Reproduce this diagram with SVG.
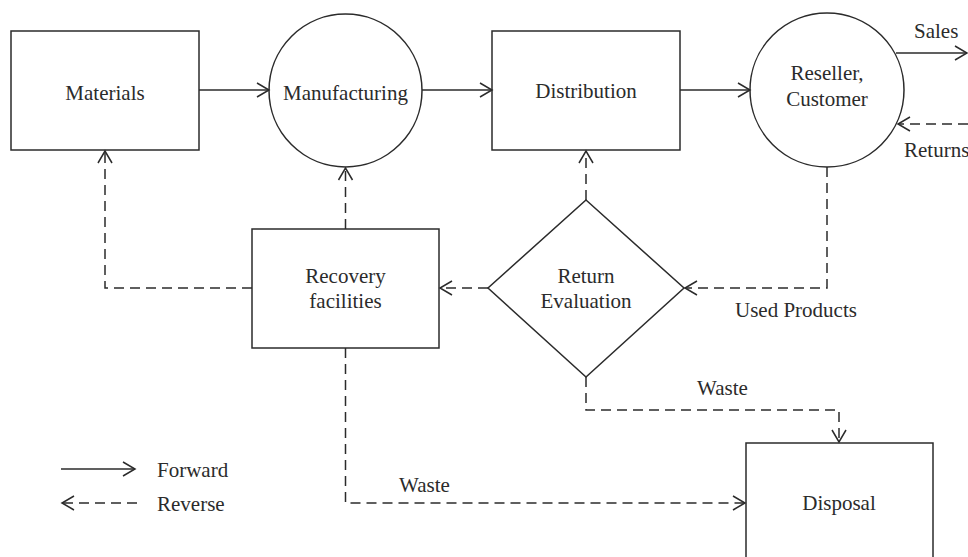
<svg xmlns="http://www.w3.org/2000/svg" width="968" height="557" viewBox="0 0 968 557">
<style>
.n{fill:#fff;stroke:#2b2b2b;stroke-width:1.5}
.t{font-family:"Liberation Serif","Times New Roman",serif;font-size:21px;fill:#2b2b2b;text-anchor:middle}
.l{font-family:"Liberation Serif","Times New Roman",serif;font-size:21px;fill:#2b2b2b}
.f{fill:none;stroke:#2b2b2b;stroke-width:1.5}
.d{fill:none;stroke:#2b2b2b;stroke-width:1.5;stroke-dasharray:10 6}
</style>
<defs>
<marker id="a" markerUnits="userSpaceOnUse" markerWidth="16" markerHeight="18" viewBox="0 0 16 18" refX="14" refY="9" orient="auto">
<path d="M2,2 L14,9 L2,16" fill="none" stroke="#2b2b2b" stroke-width="1.5" stroke-dasharray="none"/>
</marker>
</defs>
<g id="materials"><rect class="n" x="11" y="31" width="188" height="119"/><text class="t" x="105" y="100">Materials</text></g>
<g id="manufacturing"><circle class="n" cx="345.5" cy="90.5" r="76.5"/><text class="t" x="345.5" y="100">Manufacturing</text></g>
<g id="distribution"><rect class="n" x="492" y="31" width="188" height="119"/><text class="t" x="586" y="98">Distribution</text></g>
<g id="reseller"><circle class="n" cx="827" cy="90" r="77"/><text class="t" x="827" y="80">Reseller,</text><text class="t" x="827" y="106">Customer</text></g>
<g id="recovery"><rect class="n" x="252" y="229" width="187" height="119"/><text class="t" x="345.5" y="283">Recovery</text><text class="t" x="345.5" y="308">facilities</text></g>
<g id="evaluation"><polygon class="n" points="586,200 684,288 586,377 488,288"/><text class="t" x="586" y="283">Return</text><text class="t" x="586" y="308">Evaluation</text></g>
<g id="disposal"><rect class="n" x="746" y="443" width="187" height="119"/><text class="t" x="839" y="510">Disposal</text></g>
<g id="connectors">
<line class="f" x1="199" y1="90" x2="269" y2="90" marker-end="url(#a)"/>
<line class="f" x1="422" y1="90" x2="492" y2="90" marker-end="url(#a)"/>
<line class="f" x1="680" y1="90" x2="750" y2="90" marker-end="url(#a)"/>
<line class="f" x1="896" y1="53" x2="967" y2="53" marker-end="url(#a)"/>
<line class="d" x1="968" y1="124" x2="898" y2="124" marker-end="url(#a)"/>
<polyline class="d" points="827,167 827,288 685,288" marker-end="url(#a)"/>
<line class="d" x1="586" y1="200" x2="586" y2="151" marker-end="url(#a)"/>
<line class="d" x1="488" y1="288" x2="440" y2="288" marker-end="url(#a)"/>
<line class="d" x1="345.5" y1="229" x2="345.5" y2="168" marker-end="url(#a)"/>
<polyline class="d" points="252,288 105,288 105,151" marker-end="url(#a)"/>
<polyline class="d" points="586,377 586,410 839,410 839,442" marker-end="url(#a)"/>
<polyline class="d" points="345.5,348 345.5,503 745,503" marker-end="url(#a)"/>
<text class="l" x="914" y="38">Sales</text>
<text class="l" x="904" y="157">Returns</text>
<text class="l" x="735" y="317">Used Products</text>
<text class="l" x="697" y="395">Waste</text>
<text class="l" x="399" y="492">Waste</text>
</g>
<g id="legend">
<line class="f" x1="61" y1="469" x2="135" y2="469" marker-end="url(#a)"/>
<line class="d" x1="137" y1="503" x2="62" y2="503" marker-end="url(#a)"/>
<text class="l" x="157" y="477">Forward</text>
<text class="l" x="157" y="511">Reverse</text>
</g>
</svg>
